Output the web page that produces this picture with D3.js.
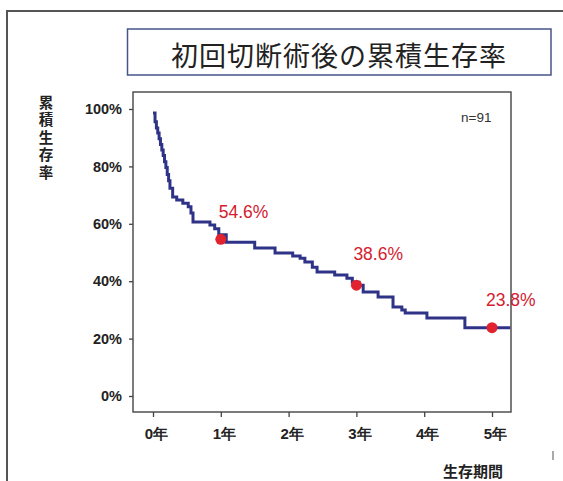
<!DOCTYPE html>
<html>
<head>
<meta charset="utf-8">
<script src="https://cdn.jsdelivr.net/npm/d3@7"></script>
<style>
  html, body { margin: 0; padding: 0; background: #fff; }
  svg { display: block; }
  .tick text { font-family: "Liberation Sans", Arial, sans-serif; font-weight: bold; fill: #222; }
</style>
</head>
<body>
<svg id="chart" width="563" height="481"></svg>
<script>
// Kaplan-Meier style cumulative survival after first amputation (n=91)
const titleText = "初回切断術後の累積生存率";
const yAxisTitle = "累積生存率";
const xAxisTitle = "生存期間";
const sampleLabel = "n=91";

const yearTicks = [0, 1, 2, 3, 4, 5];
const percentTicks = [0, 20, 40, 60, 80, 100];

// step points: time in years, survival in %
const stepTimes = [0.00, 0.03, 0.05, 0.07, 0.09, 0.11, 0.13, 0.15, 0.17, 0.19, 0.21, 0.23, 0.25, 0.29,
  0.35, 0.44, 0.52, 0.56, 0.59, 0.84, 0.91, 0.97, 1.08, 1.50, 1.80, 2.06, 2.17, 2.24, 2.35, 2.42,
  2.68, 2.86, 2.94, 3.04, 3.10, 3.32, 3.54, 3.67, 3.72, 4.04, 4.60, 5.27];
const stepSurvival = [98.6, 95.6, 93.4, 91.6, 89.6, 87.6, 85.7, 83.8, 81.6, 79.6, 77.2, 75.0, 72.4, 69.3,
  68.3, 67.2, 65.9, 63.8, 60.6, 59.6, 58.3, 56.2, 53.6, 51.6, 49.8, 48.8, 48.0, 46.7, 44.9, 43.2,
  42.2, 41.0, 39.6, 38.6, 36.2, 34.5, 31.0, 30.0, 28.9, 27.2, 23.8, 23.8];

// highlighted yearly estimates
const markYears = [1, 3, 5];
const markValues = [54.6, 38.6, 23.8];

const svg = d3.select("#chart");

// outer page frame (top and left edges)
svg.append("path")
  .attr("d", "M7,481 V11 H563")
  .attr("fill", "none").attr("stroke", "#555").attr("stroke-width", 2);

// title box
svg.append("rect")
  .attr("x", 127.5).attr("y", 29).attr("width", 423.5).attr("height", 46)
  .attr("fill", "#fff").attr("stroke", "#46558a").attr("stroke-width", 1.5);
svg.append("text")
  .attr("x", 339).attr("y", 54).attr("text-anchor", "middle").attr("dominant-baseline", "central")
  .attr("font-family", "'Noto Sans CJK JP', sans-serif").attr("font-size", 27)
  .attr("fill", "#222").attr("letter-spacing", 1)
  .text(titleText);

const frame = { left: 133, top: 92, right: 511, bottom: 412 };

const x = d3.scaleLinear().domain([0, 5]).range([153, 492]);
const y = d3.scaleLinear().domain([0, 100]).range([396, 109]);

// plot frame
svg.append("rect")
  .attr("x", frame.left).attr("y", frame.top)
  .attr("width", frame.right - frame.left).attr("height", frame.bottom - frame.top)
  .attr("fill", "none").attr("stroke", "#444").attr("stroke-width", 1.4);

// axes
const xAxis = svg.append("g")
  .attr("transform", `translate(0,${frame.bottom})`)
  .call(d3.axisBottom(x).tickValues(yearTicks).tickSize(5).tickFormat(d => d + "年"));
xAxis.select(".domain").remove();
xAxis.selectAll(".tick line").attr("stroke", "#444").attr("stroke-width", 1.3);
xAxis.selectAll(".tick text").attr("font-size", 15).attr("y", 16).attr("dx", 3);

const yAxis = svg.append("g")
  .attr("transform", `translate(${frame.left},0)`)
  .call(d3.axisLeft(y).tickValues(percentTicks).tickSize(4).tickPadding(7).tickFormat(d => d + "%"));
yAxis.select(".domain").remove();
yAxis.selectAll(".tick line").attr("stroke", "#444").attr("stroke-width", 1.3);
yAxis.selectAll(".tick text").attr("font-size", 14.5);

// y axis title, written top to bottom
svg.append("text")
  .attr("x", 46).attr("y", 95)
  .attr("writing-mode", "vertical-rl")
  .style("writing-mode", "vertical-rl")
  .attr("font-family", "'Noto Sans CJK JP', sans-serif").attr("font-weight", "bold")
  .attr("font-size", 14.5).attr("letter-spacing", 3).attr("fill", "#222")
  .text(yAxisTitle);

// x axis title
svg.append("text")
  .attr("x", 473).attr("y", 470).attr("text-anchor", "middle").attr("dominant-baseline", "central")
  .attr("font-family", "'Noto Sans CJK JP', sans-serif").attr("font-weight", "bold")
  .attr("font-size", 15).attr("fill", "#222")
  .text(xAxisTitle);

// sample size
svg.append("text")
  .attr("x", 461).attr("y", 122)
  .attr("font-family", "'Liberation Sans', Arial, sans-serif").attr("font-size", 13.5)
  .attr("fill", "#333")
  .text(sampleLabel);

// survival curve
const curveData = stepTimes.map((t, i) => [t, stepSurvival[i]]);
svg.append("path")
  .datum(curveData)
  .attr("d", d3.line().x(d => x(d[0])).y(d => y(d[1])).curve(d3.curveStepAfter))
  .attr("fill", "none").attr("stroke", "#2e3388").attr("stroke-width", 3)
  .attr("stroke-linejoin", "miter");

// yearly markers and labels
const marks = markYears.map((t, i) => ({ t, v: markValues[i] }));
svg.append("g").selectAll("circle")
  .data(marks).join("circle")
  .attr("cx", d => x(d.t)).attr("cy", d => y(d.v)).attr("r", 5.5)
  .attr("fill", "#e0232e");

const labelOffsets = [{ dx: -2, dy: -21 }, { dx: -3, dy: -25 }, { dx: -6, dy: -22 }];
svg.append("g").selectAll("text")
  .data(marks).join("text")
  .attr("x", (d, i) => x(d.t) + labelOffsets[i].dx)
  .attr("y", (d, i) => y(d.v) + labelOffsets[i].dy)
  .attr("font-family", "'Liberation Sans', Arial, sans-serif").attr("font-size", 17.5)
  .attr("fill", "#d4202e")
  .text(d => d.v.toFixed(1) + "%");

// small mark at lower right
svg.append("line")
  .attr("x1", 553).attr("x2", 553).attr("y1", 451).attr("y2", 460)
  .attr("stroke", "#555").attr("stroke-width", 1);
</script>
</body>
</html>
